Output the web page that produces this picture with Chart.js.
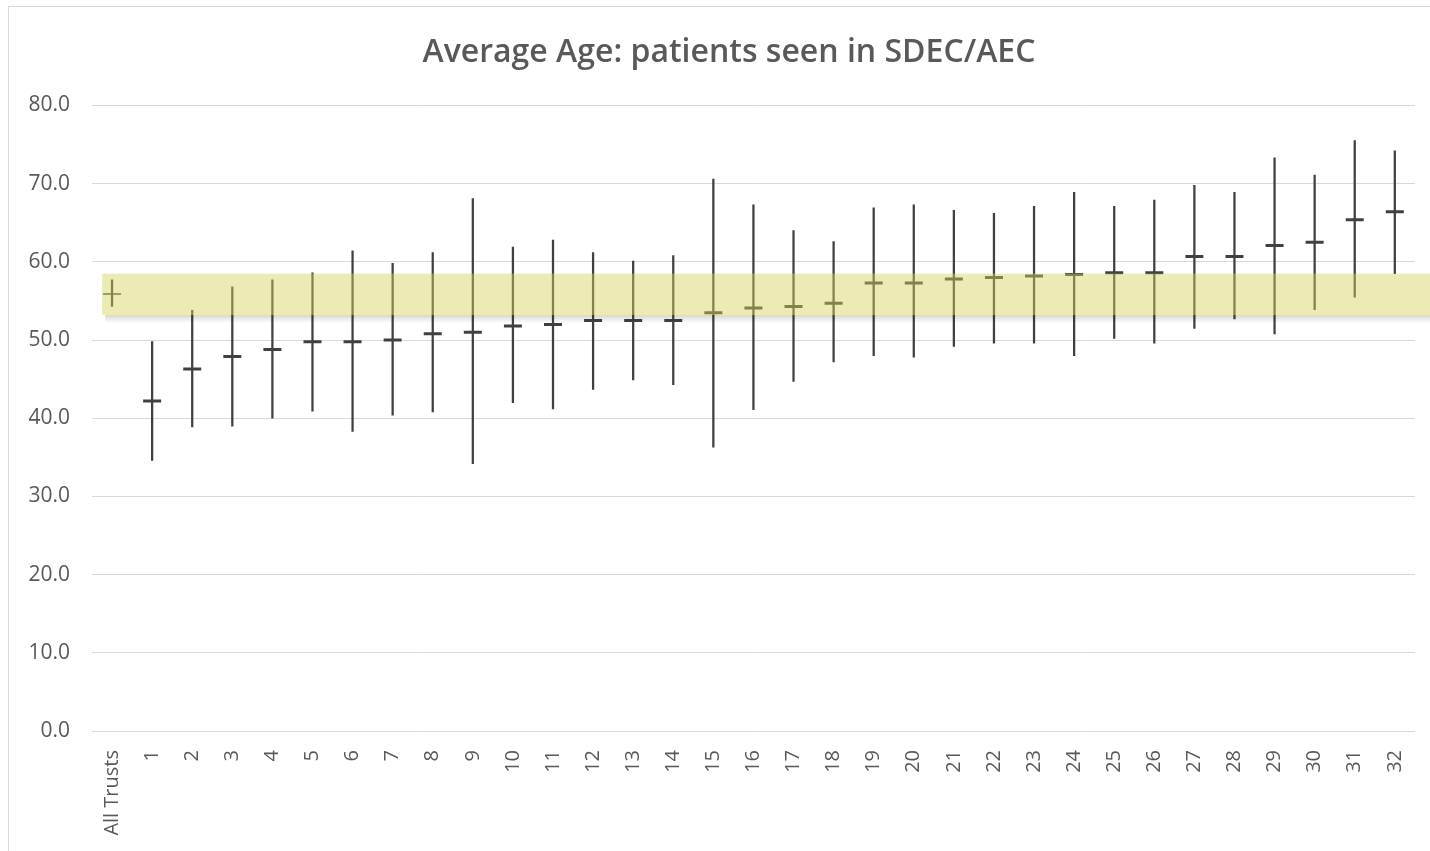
<!DOCTYPE html>
<html>
<head>
<meta charset="utf-8">
<script src="https://cdn.jsdelivr.net/npm/chart.js@4/dist/chart.umd.min.js"></script>
<style>
  body { margin: 0; background: #fff; }
  #wrap { position: relative; width: 1430px; height: 851px; overflow: hidden; }
  #frame { position: absolute; left: 8px; top: 6px; width: 1440px; height: 870px; border: 1px solid #d9d9d9; }
  #chart { position: absolute; left: 0; top: 0; }
  #title {
    position: absolute; left: 0; top: 31px; width: 1458px; text-align: center;
    font: 600 32px/38px 'Open Sans', sans-serif; color: #595959;
  }
</style>
</head>
<body>
<div id="wrap">
  <div id="frame"></div>
  <canvas id="chart" width="1430" height="851"></canvas>
  <div id="title">Average Age: patients seen in SDEC/AEC</div>
</div>
<script>
// Catégories et valeurs
const labels = ['All Trusts', '1', '2', '3', '4', '5', '6', '7', '8', '9', '10', '11', '12', '13', '14', '15', '16',
  '17', '18', '19', '20', '21', '22', '23', '24', '25', '26', '27', '28', '29', '30', '31', '32'];
const means = [55.9, 42.2, 46.3, 47.9, 48.8, 49.8, 49.8, 50.0, 50.8, 51.0, 51.8, 52.0, 52.5, 52.5, 52.5, 53.5, 54.1,
  54.3, 54.7, 57.3, 57.3, 57.8, 58.0, 58.2, 58.4, 58.6, 58.6, 60.7, 60.7, 62.1, 62.5, 65.4, 66.4];
const lows = [54.3, 34.6, 38.9, 39.0, 40.0, 40.9, 38.3, 40.4, 40.8, 34.2, 42.0, 41.2, 43.7, 44.9, 44.3, 36.3, 41.1,
  44.7, 47.2, 48.0, 47.8, 49.2, 49.6, 49.6, 48.0, 50.2, 49.6, 51.5, 52.7, 50.8, 53.9, 55.5, 58.5];
const highs = [57.7, 49.8, 53.8, 56.8, 57.7, 58.6, 61.4, 59.8, 61.2, 68.1, 61.9, 62.8, 61.2, 60.1, 60.8, 70.6, 67.3,
  64.0, 62.6, 66.9, 67.3, 66.6, 66.2, 67.1, 68.9, 67.1, 67.9, 69.8, 68.9, 73.3, 71.1, 75.5, 74.2];
// Bande de surbrillance (valeurs de l'axe Y)
const bandLow = 53.2;
const bandHigh = 58.5;

const ink = '#404040';
const textCol = '#595959';
const ranges = lows.map((lo, i) => [lo, highs[i]]);

// Bande jaune semi-transparente, avec une petite ombre en dessous
const bandPlugin = {
  id: 'band',
  afterDatasetsDraw(chart) {
    const { ctx, scales: { x, y } } = chart;
    const left = x.getPixelForValue(0) - 10;
    const top = y.getPixelForValue(bandHigh);
    const bottom = y.getPixelForValue(bandLow);
    ctx.save();
    const sh = ctx.createLinearGradient(0, bottom, 0, bottom + 8);
    sh.addColorStop(0, 'rgba(0,0,0,0.16)');
    sh.addColorStop(1, 'rgba(0,0,0,0)');
    ctx.fillStyle = sh;
    ctx.fillRect(left + 3, bottom, chart.width - left, 8);
    ctx.fillStyle = 'rgba(215,210,90,0.45)';
    ctx.fillRect(left, top, chart.width - left, bottom - top);
    ctx.restore();
  },
};

new Chart(document.getElementById('chart'), {
  type: 'bar',
  data: {
    labels,
    datasets: [
      {
        type: 'line',
        label: 'Moyenne',
        data: means,
        showLine: false,
        pointStyle: 'line',
        pointRadius: 9,
        pointBorderWidth: means.map((_, i) => (i === 0 ? 1.5 : 3)),
        pointBorderColor: ink,
        borderColor: ink,
        order: 0,
      },
      {
        label: 'Plage',
        data: ranges,
        backgroundColor: ink,
        barThickness: 1.6,
        order: 1,
      },
    ],
  },
  options: {
    responsive: false,
    animation: false,
    layout: { padding: { left: 0, right: 10, top: 105.5, bottom: 0 } },
    plugins: {
      legend: { display: false },
      tooltip: { enabled: false },
      title: { display: false },
    },
    scales: {
      x: {
        offset: true,
        grid: { display: false },
        border: { display: false },
        ticks: {
          color: textCol,
          font: { family: 'Open Sans', size: 20 },
          minRotation: 90,
          maxRotation: 90,
          padding: 11,
          autoSkip: false,
        },
        afterFit: (s) => { s.height = 120; },
      },
      y: {
        min: 0,
        max: 80,
        grid: { color: '#d9d9d9', drawTicks: false },
        border: { display: false },
        ticks: {
          stepSize: 10,
          color: textCol,
          font: { family: 'Open Sans', size: 21 },
          padding: 22,
          callback: (v) => Number(v).toFixed(1),
        },
        afterFit: (s) => { s.width = 92; },
      },
    },
  },
  plugins: [bandPlugin],
});
</script>
</body>
</html>
